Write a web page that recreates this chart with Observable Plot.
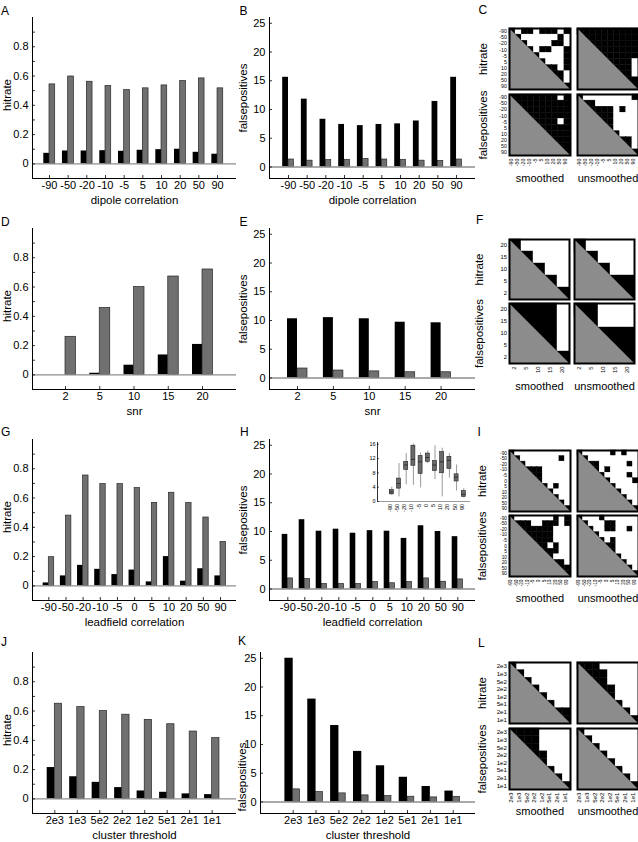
<!DOCTYPE html>
<html><head><meta charset="utf-8">
<script src="https://cdn.jsdelivr.net/npm/d3@7"></script>
<script src="https://cdn.jsdelivr.net/npm/@observablehq/plot@0.6"></script>
<style>
html,body{margin:0;padding:0;background:#fff;}
#fig{position:relative;width:638px;height:842px;overflow:hidden;background:#fff;}
#fig svg{position:absolute;overflow:visible;}
</style></head><body><div id="fig"></div>
<script>
// ================= DATA =================
const dipoleCats  = ["-90","-50","-20","-10","-5","5","10","20","50","90"];
const snrCats     = ["2","5","10","15","20"];
const snrRowCats  = ["20","15","10","5","2"];
const leadCats    = ["-90","-50","-20","-10","-5","0","5","10","20","50","90"];
const clusterCats = ["2e3","1e3","5e2","2e2","1e2","5e1","2e1","1e1"];

const hitTickLabels = [0, 0.2, 0.4, 0.6, 0.8];
const hitTickMarks  = [0, 0.1, 0.2, 0.3, 0.4, 0.5, 0.6, 0.7, 0.8, 0.9];
const fpTickLabels  = [0, 5, 10, 15, 20, 25];
const insetTicks    = [0, 4, 8, 12, 16];

// black series / gray series
const hitDipoleBlack = [0.072,0.088,0.088,0.090,0.086,0.093,0.097,0.100,0.079,0.066];
const hitDipoleGray  = [0.543,0.597,0.561,0.532,0.504,0.516,0.536,0.566,0.584,0.516];
const fpDipoleBlack  = [15.6,11.8,8.3,7.4,7.2,7.4,7.5,8.0,11.4,15.6];
const fpDipoleGray   = [1.3,1.1,1.2,1.25,1.4,1.3,1.25,1.1,1.05,1.3];

const hitSnrBlack = [0.0,0.011,0.066,0.136,0.208];
const hitSnrGray  = [0.26,0.457,0.60,0.672,0.72];
const fpSnrBlack  = [10.3,10.5,10.3,9.7,9.6];
const fpSnrGray   = [1.65,1.3,1.15,1.0,1.0];

const hitLeadBlack = [0.02,0.068,0.14,0.113,0.077,0.108,0.027,0.20,0.032,0.117,0.068];
const hitLeadGray  = [0.196,0.48,0.754,0.695,0.695,0.668,0.567,0.636,0.567,0.467,0.30];
const fpLeadBlack  = [9.5,12.05,10.05,10.4,9.7,10.15,10.05,8.8,11.0,10.0,9.1];
const fpLeadGray   = [1.84,1.72,0.86,0.86,0.86,1.2,1.0,1.2,1.84,1.26,1.67];

const hitClusterBlack = [0.214,0.151,0.113,0.077,0.054,0.045,0.034,0.029];
const hitClusterGray  = [0.65,0.627,0.60,0.575,0.54,0.51,0.46,0.415];
const fpClusterBlack  = [25.0,17.9,13.3,8.8,6.3,4.3,2.7,1.9];
const fpClusterGray   = [2.2,1.72,1.5,1.15,1.03,0.92,0.8,0.9];

// inset (panel H): box plot summaries per leadfield correlation
const boxMin = [1.7,1.3,4.7,4.5,3.8,10.6,6.1,1.3,6.5,2.9,1.0];
const boxQ1  = [2.0,3.6,8.8,10.0,7.7,11.1,8.5,7.9,9.1,5.6,1.3];
const boxMed = [2.7,5.0,10.2,11.8,11.1,12.3,10.2,11.1,11.5,6.8,2.0];
const boxQ3  = [3.2,6.4,11.1,15.6,12.7,13.4,11.3,13.8,12.5,7.6,2.9];
const boxMax = [4.0,10.6,13.4,16.1,13.6,14.1,15.6,14.9,13.4,10.2,3.6];

// significance matrices (upper triangle incl. diagonal): 1 = white, 0 = black
const C_hitSm = ["0100100010",".011111101","..01111001","...0100110","....011110",".....01110","......0010",".......001","........01",".........0"];
const C_hitUn = ["0000000000",".000000000","..00000000","...0000000","....000000",".....00001","......0001",".......001","........00",".........0"];
const C_fpSm  = ["0000000010",".000000000","..00000000","...0000000","....000010",".....00000","......0000",".......000","........00",".........0"];
const C_fpUn  = ["0111111110",".001111111","..00001011","...0001111","....001111",".....01111","......0111",".......001","........01",".........0"];

const F_hitSm = ["01111",".0111","..011","...01","....0"];
const F_hitUn = ["01111",".0111","..011","...00","....0"];
const F_fpSm  = ["00001",".0001","..001","...01","....0"];
const F_fpUn  = ["00111",".0111","..000","...00","....0"];

const I_hitSm = ["01111111111",".0111111101","..011111111","...00011111","....0011111",".....011111","......01011",".......0111","........011",".........01","..........0"];
const I_hitUn = ["01111101011",".0111111111","..001111101","...01011111","....0111101",".....011110","......01111",".......0111","........011",".........01","..........0"];
const I_fpSm  = ["01111111010",".0001100010","..000000111","...00000111","....0000111",".....001011","......00011",".......0111","........001",".........00","..........0"];
const I_fpUn  = ["01110111111",".0111001111","..011001101","...01111111","....0101111",".....001111","......01111",".......0111","........011",".........01","..........0"];

const L_hitSm = ["01111111",".0111111","..011111","...01111","....0111",".....011","......00",".......0"];
const L_hitUn = ["00011111",".0001111","..001111","...00111","....0111",".....011","......01",".......0"];
const L_fpSm  = ["00001111",".0001111","..001111","...00111","....0111",".....011","......01",".......0"];
const L_fpUn  = ["01111111",".0111111","..011111","...01111","....0111",".....011","......01",".......0"];

// ================= DRAWING =================
const FONT = "'Liberation Sans', Arial, Helvetica, sans-serif";
const fig = document.getElementById("fig");
function place(svg, left, top) {
  svg.style.left = left + "px";
  svg.style.top = top + "px";
  fig.appendChild(svg);
}
const baseStyle = {fontFamily: FONT, fontSize: "11px", background: "transparent", overflow: "visible", color: "#000"};

function barPanel(o) {
  const mL = 30, mR = 4, mT = 10, mB = 34;
  const W = o.x1 - o.x0, H = o.yBot - o.yTop;
  const xd = [(o.x0 - o.c0) / o.step, (o.x1 - o.c0) / o.step];
  const pxY = H / (o.yDomain[1] - o.yDomain[0]);
  const rows = o.cats.map((c, i) => ({i, c, b: o.black[i], g: o.gray[i]}));
  const wb = o.bwB / o.step, wg = o.bwG / o.step;
  const tickX = 3 / o.step, tickY = 3 / pxY;
  const yMid = (o.yDomain[0] + o.yDomain[1]) / 2;
  const svg = Plot.plot({
    width: W + mL + mR, height: H + mT + mB,
    marginLeft: mL, marginRight: mR, marginTop: mT, marginBottom: mB,
    x: {type: "linear", domain: xd, axis: null},
    y: {type: "linear", domain: o.yDomain, axis: null},
    style: baseStyle,
    marks: [
      Plot.rect(rows, {x1: d => d.i - wb, x2: d => d.i, y1: () => 0, y2: "b", fill: "#000"}),
      Plot.rect(rows, {x1: d => d.i, x2: d => d.i + wg, y1: () => 0, y2: "g", fill: "#707070", stroke: "#262626", strokeWidth: 0.7}),
      Plot.ruleY([0], {stroke: "#8e8e8e", strokeWidth: 1.4}),
      Plot.ruleX([xd[0]], {stroke: "#000", strokeWidth: 1}),
      Plot.ruleY([o.yDomain[0]], {stroke: "#000", strokeWidth: 1}),
      Plot.ruleY(o.tickMarks, {y: d => d, x1: xd[0], x2: xd[0] + tickX, stroke: "#000", strokeWidth: 0.8}),
      Plot.ruleX(rows, {x: "i", y1: o.yDomain[0], y2: o.yDomain[0] + tickY, stroke: "#000", strokeWidth: 0.8}),
      Plot.text(o.tickLabels, {y: d => d, text: d => String(d), frameAnchor: "left", dx: -4, textAnchor: "end", fontSize: 11}),
      Plot.text(rows, {x: "i", text: "c", frameAnchor: "bottom", dy: 10, fontSize: 11}),
      Plot.text([o.xLabel], {text: d => d, frameAnchor: "bottom", dy: 25, fontSize: 11.5}),
      Plot.text([o.yLabel], {x: () => xd[0], y: () => yMid, text: d => d, dx: o.yLabelX - o.x0, dy: o.yLabelDy, rotate: -90, textAnchor: "middle", lineAnchor: "middle", fontSize: 11.5}),
      Plot.text([o.letter], {text: d => d, frameAnchor: "top-left", dx: o.letterX - o.x0, dy: o.letterY - o.yTop, textAnchor: "start", fontSize: 12})
    ]
  });
  place(svg, o.x0 - mL, o.yTop - mT);
}

function matrixPlot(o) {
  const n = o.rowCats.length;
  const m = 2;
  const cells = [];
  o.rows.forEach((s, r) => { for (let c = r; c < n; c++) cells.push({r, c, white: s[c] === "1"}); });
  const marks = [
    Plot.rect(cells, {x1: "c", x2: d => d.c + 1, y1: "r", y2: d => d.r + 1,
      fill: d => d.white ? "#fff" : "#000", stroke: d => d.white ? "#fff" : "#000", strokeWidth: 0.4}),
    Plot.areaY([0, n], {x: d => d, y1: d => d, y2: () => n, fill: "#8c8c8c"}),
    Plot.frame({stroke: "#000", strokeWidth: 2})
  ];
  if (o.rowLabels) marks.push(Plot.text(o.rowCats, {y: (d, i) => i + 0.5, text: d => d, frameAnchor: "left", dx: -2.5, textAnchor: "end", fontSize: o.fs}));
  if (o.colLabels) marks.push(Plot.text(o.colCats, {x: (d, i) => i + 0.5, text: d => d, frameAnchor: "bottom", dy: 3, rotate: -90, textAnchor: "end", fontSize: o.fs}));
  if (o.sideLabel) marks.push(Plot.text([o.sideLabel], {text: d => d, frameAnchor: "top-left", dx: o.sideX - o.left, dy: o.size / 2, rotate: -90, textAnchor: "middle", lineAnchor: "middle", fontSize: 11.5}));
  if (o.bottomLabel) marks.push(Plot.text([o.bottomLabel], {text: d => d, frameAnchor: "bottom", dy: o.bottomY - (o.top + o.size), textAnchor: "middle", fontSize: 11}));
  if (o.letter) marks.push(Plot.text([o.letter], {text: d => d, frameAnchor: "top-left", dx: o.letterX - o.left, dy: o.letterY - o.top, textAnchor: "start", fontSize: 12}));
  const svg = Plot.plot({
    width: o.size + 2 * m, height: o.size + 2 * m,
    marginLeft: m, marginRight: m, marginTop: m, marginBottom: m,
    x: {type: "linear", domain: [0, n], axis: null},
    y: {type: "linear", domain: [n, 0], axis: null},
    style: baseStyle,
    marks
  });
  place(svg, o.left - m, o.top - m);
}

function matrixPanel(p) {
  const L = p.left, R = p.right, T = p.off + p.t1, B = p.off + p.t2, S = p.size;
  const common = {rowCats: p.rowCats, colCats: p.colCats, size: S, fs: p.fs};
  matrixPlot({...common, rows: p.hitSm, left: L, top: T, rowLabels: true,
    sideLabel: "hitrate", sideX: p.sideX, letter: p.letter, letterX: p.letterX, letterY: p.letterY});
  matrixPlot({...common, rows: p.hitUn, left: R, top: T});
  matrixPlot({...common, rows: p.fpSm, left: L, top: B, rowLabels: true, colLabels: true,
    sideLabel: "falsepositives", sideX: p.sideX, bottomLabel: "smoothed", bottomY: p.off + p.by});
  matrixPlot({...common, rows: p.fpUn, left: R, top: B, colLabels: true,
    bottomLabel: "unsmoothed", bottomY: p.off + p.by});
}

const HIT = {yDomain: [-0.1, 1.0], tickLabels: hitTickLabels, tickMarks: hitTickMarks, yLabel: "hitrate", yLabelDy: -3};
const FP  = {yDomain: [-2, 26], tickLabels: fpTickLabels, tickMarks: fpTickLabels, yLabel: "falsepositives", yLabelDy: 0};

// row 1
barPanel({...HIT, cats: dipoleCats, black: hitDipoleBlack, gray: hitDipoleGray, xLabel: "dipole correlation",
  x0: 32, x1: 236, yTop: 17, yBot: 178, c0: 49, step: 18.67, bwB: 5.7, bwG: 5.7, yLabelX: 6.7, letter: "A", letterX: 0.5, letterY: 6});
barPanel({...FP, cats: dipoleCats, black: fpDipoleBlack, gray: fpDipoleGray, xLabel: "dipole correlation",
  x0: 269, x1: 475, yTop: 17, yBot: 178, c0: 288, step: 18.67, bwB: 5.8, bwG: 5.4, yLabelX: 242.5, letter: "B", letterX: 239, letterY: 6});
matrixPanel({rowCats: dipoleCats, colCats: dipoleCats, hitSm: C_hitSm, hitUn: C_hitUn, fpSm: C_fpSm, fpUn: C_fpUn, fs: 5.3,
  off: 0, left: 509, right: 576.5, t1: 28, t2: 94, size: 61, by: 181.5, sideX: 483, letter: "C", letterX: 478, letterY: 5});

// row 2
barPanel({...HIT, cats: snrCats, black: hitSnrBlack, gray: hitSnrGray, xLabel: "snr",
  x0: 32, x1: 236, yTop: 228, yBot: 389, c0: 65, step: 34.25, bwB: 10, bwG: 10.5, yLabelX: 6.5, letter: "D", letterX: 0.5, letterY: 216.5});
barPanel({...FP, cats: snrCats, black: fpSnrBlack, gray: fpSnrGray, xLabel: "snr",
  x0: 269, x1: 475, yTop: 228, yBot: 389, c0: 297, step: 35.9, bwB: 10, bwG: 10, yLabelX: 242.5, letter: "E", letterX: 239, letterY: 216.5});
matrixPanel({rowCats: snrRowCats, colCats: snrCats, hitSm: F_hitSm, hitUn: F_hitUn, fpSm: F_fpSm, fpUn: F_fpUn, fs: 5.8,
  off: 211, left: 509, right: 574, t1: 28.3, t2: 92.3, size: 60, by: 178.5, sideX: 479, letter: "F", letterX: 475.5, letterY: 215.5});

// row 3
barPanel({...HIT, cats: leadCats, black: hitLeadBlack, gray: hitLeadGray, xLabel: "leadfield correlation",
  x0: 32, x1: 236, yTop: 439, yBot: 600, c0: 48.3, step: 17.17, bwB: 5.6, bwG: 5.4, yLabelX: 6.5, letter: "G", letterX: 0.5, letterY: 427});
barPanel({...FP, cats: leadCats, black: fpLeadBlack, gray: fpLeadGray, xLabel: "leadfield correlation",
  x0: 269, x1: 475, yTop: 439, yBot: 600, c0: 287.3, step: 17, bwB: 5.6, bwG: 5.2, yLabelX: 242.5, letter: "H", letterX: 239.5, letterY: 427});
matrixPanel({rowCats: leadCats, colCats: leadCats, hitSm: I_hitSm, hitUn: I_hitUn, fpSm: I_fpSm, fpUn: I_fpUn, fs: 4.8,
  off: 422, left: 508.5, right: 576.5, t1: 27.5, t2: 93, size: 61, by: 179, sideX: 481, letter: "I", letterX: 476.5, letterY: 426.5});

// row 4
barPanel({...HIT, cats: clusterCats, black: hitClusterBlack, gray: hitClusterGray, xLabel: "cluster threshold",
  x0: 32, x1: 236, yTop: 652, yBot: 813, c0: 54.3, step: 22.48, bwB: 7.6, bwG: 7.3, yLabelX: 6.7, letter: "J", letterX: 0.5, letterY: 637});
barPanel({...FP, cats: clusterCats, black: fpClusterBlack, gray: fpClusterGray, xLabel: "cluster threshold",
  x0: 260, x1: 475, yTop: 652, yBot: 813, c0: 292.7, step: 22.86, bwB: 8.3, bwG: 6.8, yLabelX: 241.7, yLabelDy: 44, letter: "K", letterX: 237.5, letterY: 636});
matrixPanel({rowCats: clusterCats, colCats: clusterCats, hitSm: L_hitSm, hitUn: L_hitUn, fpSm: L_fpSm, fpUn: L_fpUn, fs: 6.2,
  off: 634, left: 508.5, right: 576.5, t1: 28, t2: 94, size: 61, by: 180, sideX: 481, letter: "L", letterX: 477, letterY: 637.5});

// inset of panel H: box plots of false positives
(function inset() {
  const x0 = 376.7, x1 = 470, yTop = 441.7, yBot = 500.7, c0 = 391, step = 7.2;
  const m = 2, mB = 14, mL = 12;
  const yDomain = [0, 16.5];
  const xd = [(x0 - c0) / step, (x1 - c0) / step];
  const bw = 2 / step;
  const rows = leadCats.map((c, i) => ({i, c, min: boxMin[i], q1: boxQ1[i], med: boxMed[i], q3: boxQ3[i], max: boxMax[i]}));
  const svg = Plot.plot({
    width: (x1 - x0) + mL + m, height: (yBot - yTop) + m + mB,
    marginLeft: mL, marginRight: m, marginTop: m, marginBottom: mB,
    x: {type: "linear", domain: xd, axis: null},
    y: {type: "linear", domain: yDomain, axis: null},
    style: baseStyle,
    marks: [
      Plot.ruleX(rows, {x: "i", y1: "min", y2: "max", stroke: "#9a9a9a", strokeWidth: 1}),
      Plot.rect(rows, {x1: d => d.i - bw, x2: d => d.i + bw, y1: "q1", y2: "q3", fill: "#6a6a6a", stroke: "#222", strokeWidth: 0.6}),
      Plot.ruleY(rows, {y: "med", x1: d => d.i - bw, x2: d => d.i + bw, stroke: "#222", strokeWidth: 0.8}),
      Plot.ruleY([0], {stroke: "#9a9a9a", strokeWidth: 1}),
      Plot.ruleX([xd[0]], {stroke: "#000", strokeWidth: 0.8}),
      Plot.ruleY(insetTicks, {y: d => d, x1: xd[0], x2: xd[0] + 2 / step, stroke: "#000", strokeWidth: 0.6}),
      Plot.text(insetTicks, {y: d => d, text: d => String(d), frameAnchor: "left", dx: -2, textAnchor: "end", fontSize: 5.5}),
      Plot.text(rows, {x: "i", text: "c", frameAnchor: "bottom", dy: 2.5, rotate: -90, textAnchor: "end", fontSize: 5.5})
    ]
  });
  place(svg, x0 - mL, yTop - m);
})();
</script></body></html>
